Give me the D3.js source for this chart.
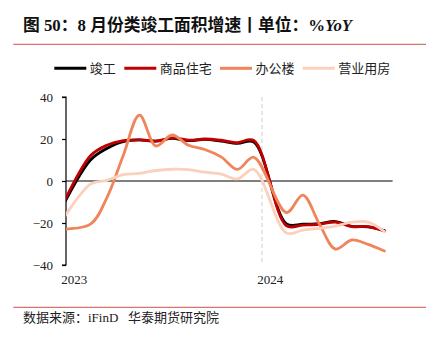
<!DOCTYPE html>
<html><head><meta charset="utf-8">
<script src="https://cdn.jsdelivr.net/npm/d3@7/dist/d3.min.js"></script>
<style>
html,body{margin:0;padding:0;background:#fff;}
svg{display:block;}
text{white-space:pre;}
</style></head>
<body>
<svg id="chart" width="438" height="341"></svg>
<script>
// Months with data (January is not published, line connects Dec -> Feb)
const months = ["2022-12","2023-02","2023-03","2023-04","2023-05","2023-06","2023-07","2023-08","2023-09","2023-10","2023-11","2023-12",
                "2024-02","2024-03","2024-04","2024-05","2024-06","2024-07","2024-08"];
const seriesNames = ["竣工","商品住宅","办公楼","营业用房"];
const completion   = [-16.5, 10.0, 15.5, 18.8, 19.6, 19.0, 20.3, 19.2, 19.8, 19.0, 17.9, 18.6, -20.4, -20.6, -20.3, -19.3, -21.6, -21.8, -23.6];
const residential  = [-16.0, 12.0, 17.0, 19.2, 19.6, 19.0, 20.5, 19.5, 20.0, 19.4, 18.3, 19.3, -21.3, -21.0, -20.6, -19.6, -21.7, -21.7, -23.8];
const office       = [-23.0, -20.5, -8.0, 12.0, 31.4, 16.7, 21.9, 17.0, 15.0, 11.5, 5.5, 11.3, -15.0, -6.7, -20.2, -32.4, -28.1, -30.2, -33.3];
const commercial   = [-22.0, -1.5, 0.3, 3.0, 3.6, 5.0, 5.6, 5.4, 4.2, 3.3, 1.0, 5.5, -24.8, -23.4, -22.6, -21.5, -19.6, -19.6, -24.1];
const yTicks = [-40, -20, 0, 20, 40];
const yearLabels = [{label:"2023", month:"2023-01"}, {label:"2024", month:"2024-01"}];
const colors = ["#000000", "#C00000", "#F0845A", "#FBD0BC"];

const title = "图 50：8 月份类竣工面积增速丨单位：%";
const titleItalic = "YoY";
const source = "数据来源：iFinD   华泰期货研究院";

const svg = d3.select("#chart");
const ruleColor = "#D77470";

// month index relative to Jan 2023
const mIndex = s => { const [y, m] = s.split("-").map(Number); return (y - 2023) * 12 + (m - 1); };

const plot = {left: 66, right: 392.6, top: 97, bottom: 265};
const x = d3.scaleLinear().domain([-0.5, 19.5]).range([plot.left, plot.right]);
const y = d3.scaleLinear().domain([-40, 40]).range([plot.bottom, plot.top]);

// title
const t = svg.append("text").attr("x", 23).attr("y", 30.5)
  .attr("font-family", "'Liberation Serif','Noto Sans CJK SC'")
  .attr("font-weight", "bold").attr("font-size", 16.8).attr("fill", "#111");
t.append("tspan").text(title);
t.append("tspan").attr("font-style", "italic").text(titleItalic);

// rules
[44.3, 307.3].forEach(yy => svg.append("line").attr("x1", 13.3).attr("x2", 426).attr("y1", yy).attr("y2", yy)
  .attr("stroke", ruleColor).attr("stroke-width", 1.3));

// legend
const legendLine = [54.3, 124.3, 220, 302.7];
seriesNames.forEach((n, i) => {
  svg.append("line").attr("x1", legendLine[i]).attr("x2", legendLine[i] + 32).attr("y1", 68.3).attr("y2", 68.3)
    .attr("stroke", colors[i]).attr("stroke-width", 3);
  svg.append("text").attr("x", legendLine[i] + 35.5).attr("y", 68.3).attr("dy", "0.36em")
    .attr("font-family", "'Noto Sans CJK SC'").attr("font-size", 13).attr("fill", "#222").text(n);
});

// y axis
const yAxis = d3.axisLeft(y).tickValues(yTicks).tickSize(4).tickPadding(9).tickFormat(d3.format("d"));
const ya = svg.append("g").attr("transform", `translate(${plot.left},0)`).call(yAxis);
ya.select(".domain").attr("stroke", "#000").attr("stroke-width", 1.2).attr("d", `M-4,${y(40)}H0V${y(-40)}H-4`);
ya.selectAll(".tick line").attr("stroke", "#000").attr("stroke-width", 1.2);
ya.selectAll(".tick text").attr("font-family", "'Liberation Serif'").attr("font-size", 13).attr("fill", "#222");

// year divider (between Dec 2023 and Jan 2024)
svg.append("line").attr("x1", x(11.5)).attr("x2", x(11.5)).attr("y1", plot.top).attr("y2", plot.bottom - 2)
  .attr("stroke", "#cfcfcf").attr("stroke-width", 1).attr("stroke-dasharray", "4,3");

// zero line
svg.append("line").attr("x1", plot.left).attr("x2", plot.right).attr("y1", y(0)).attr("y2", y(0))
  .attr("stroke", "#000").attr("stroke-width", 1.2);

// x labels
yearLabels.forEach(d => svg.append("text").attr("x", x(mIndex(d.month))).attr("y", 284)
  .attr("text-anchor", "middle").attr("font-family", "'Liberation Serif'").attr("font-size", 13).attr("fill", "#222").text(d.label));

// clip
svg.append("clipPath").attr("id", "clip").append("rect")
  .attr("x", plot.left).attr("y", 0).attr("width", plot.right - plot.left + 5).attr("height", 341);

const line = d3.line().x(d => x(d.i)).y(d => y(d.v)).curve(d3.curveCatmullRom.alpha(0.5));
const allSeries = [completion, residential, office, commercial];
const g = svg.append("g").attr("clip-path", "url(#clip)");
allSeries.forEach((vals, k) => {
  const pts = months.map((m, j) => ({i: mIndex(m), v: vals[j]}));
  g.append("path").attr("d", line(pts)).attr("fill", "none").attr("stroke", colors[k])
    .attr("stroke-width", 2.8).attr("stroke-linejoin", "round").attr("stroke-linecap", "round");
});

// source
svg.append("text").attr("x", 23).attr("y", 317.3).attr("dy", "0.36em")
  .attr("font-family", "'Liberation Serif','Noto Sans CJK SC'").attr("font-size", 13).attr("fill", "#222").text(source);
</script>
</body></html>
